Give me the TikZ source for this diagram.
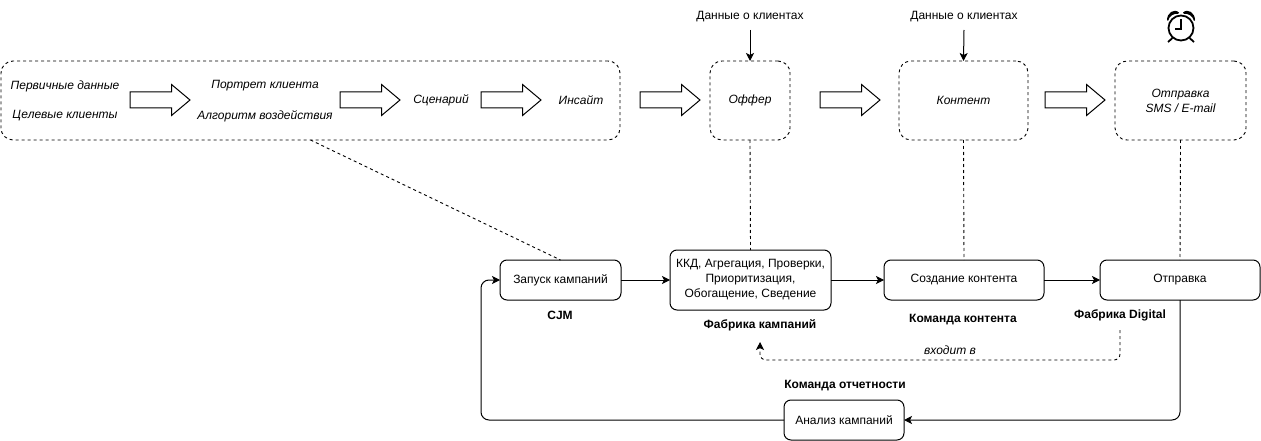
\documentclass[tikz,border=0pt]{standalone}
\usepackage{fontspec}
\setmainfont{Liberation Sans}
\usetikzlibrary{arrows.meta,shapes.arrows,calc}
\tikzset{
  x=1pt,y=-1pt,
  every node/.style={font=\fontsize{12}{15}\selectfont,inner sep=0pt,outer sep=0pt,align=center},
  boxa/.style={draw=black,line width=1pt,rounded corners=7pt},
  dbox/.style={draw=black,line width=0.9pt,rounded corners=12pt,dash pattern=on 3pt off 3pt},
  lab/.style={font=\fontsize{12}{15}\selectfont\itshape},
  blab/.style={font=\fontsize{12}{15}\selectfont\bfseries},
  barrow/.style={single arrow,draw=black,line width=1pt,fill=white,inner xsep=0pt,inner ysep=7.5pt,minimum height=60pt,minimum width=30pt,single arrow head extend=7.5pt,single arrow tip angle=80,anchor=tail},
  conn/.style={draw=black,line width=1pt,-{Stealth[length=8pt,width=8pt,inset=2pt]},rounded corners=8pt},
  dconn/.style={draw=black,line width=0.9pt,dash pattern=on 3pt off 3pt},
}
\begin{document}
\begin{tikzpicture}
\useasboundingbox (0,0) rectangle (1261,441);
% dashed containers
\node[dbox,minimum width=619pt,minimum height=79pt] (big) at (310.5,100.5) {};
\node[dbox,minimum width=80pt,minimum height=79pt,lab] (offer) at (750,100.5) {Оффер};
\node[dbox,minimum width=129pt,minimum height=79pt,lab] (cont) at (963.5,100.5) {Контент};
\node[dbox,minimum width=131pt,minimum height=79pt,lab] (send) at (1180.5,100.5) {Отправка\\SMS / E-mail};
% texts in large container
\node[lab] (t1) at (65,86) {Первичные данные};
\node[lab] (t2) at (65,116) {Целевые клиенты};
\node[lab] (t3) at (265,86) {Портрет клиента};
\node[lab] (t4) at (265,116) {Алгоритм воздействия};
\node[lab] (t5) at (441,100) {Сценарий};
\node[lab] (t6) at (581,100) {Инсайт};
% block arrows
\node[barrow] (a1) at (130,100) {};
\node[barrow] (a2) at (340,100) {};
\node[barrow] (a3) at (481,100) {};
\node[barrow] (a4) at (640,100) {};
\node[barrow] (a5) at (820,100) {};
\node[barrow] (a6) at (1045,100) {};
% top labels
\node[minimum height=26pt] (d1) at (750,17) {Данные о клиентах};
\node[minimum height=26pt] (d2) at (964,17) {Данные о клиентах};
% alarm clock
\begin{scope}[line width=1.8pt,shift={(1181,28)}]
  \draw (0,0) circle[radius=12.5];
  \draw[line width=1.5pt] (0,-9) -- (0,1) -- (-6,1);
  \fill (-14,-8) .. controls (-14,-15) and (-7,-20) .. (-2,-15.5) -- (-3,-14) .. controls (-7,-15) and (-12,-12) .. (-13,-7) -- cycle;
  \fill (14,-8) .. controls (14,-15) and (7,-20) .. (2,-15.5) -- (3,-14) .. controls (7,-15) and (12,-12) .. (13,-7) -- cycle;
  \draw (-8.5,10) -- (-13,14);
  \draw (8.5,10) -- (13,14);
\end{scope}
% process boxes
\node[boxa,minimum width=121pt,minimum height=40pt] (zap) at (560.5,280) {Запуск кампаний};
\node[boxa,minimum width=161pt,minimum height=60pt] (fab) at (750.5,280) {ККД, Агрегация, Проверки,\\Приоритизация,\\Обогащение, Сведение};
\node[boxa,minimum width=160pt,minimum height=40pt] (soz) at (964,280) {Создание контента};
\node[boxa,minimum width=160pt,minimum height=40pt] (otp) at (1180,280) {Отправка};
\node[boxa,minimum width=120pt,minimum height=40pt] (ana) at (844,420) {Анализ кампаний};
% bold labels
\node[blab] (lcjm) at (560,315) {CJM};
\node[blab,minimum height=34pt] (lfab) at (760,325) {Фабрика кампаний};
\node[blab] (lcon) at (963,320) {Команда контента};
\node[blab,minimum height=30pt] (ldig) at (1120,315) {Фабрика Digital};
\node[blab] (lrep) at (845,386) {Команда отчетности};
\node[lab] (lin) at (950,350) {входит в};
% connectors
\draw[dconn] (big.south) -- (zap.north);
\draw[dconn] (offer.south) -- (fab.north);
\draw[dconn] (cont.south) -- (soz.north);
\draw[dconn] (send.south) -- (otp.north);
\draw[conn] (d1.south) -- (offer.north);
\draw[conn] (d2.south) -- (cont.north);
\draw[conn] (zap.east) -- (fab.west);
\draw[conn] (fab.east) -- (soz.west);
\draw[conn] (soz.east) -- (otp.west);
\draw[conn] (otp.south) |- (ana.east);
\draw[conn] (ana.west) -- (481,420) -- (481,280) -- (zap.west);
\draw[dconn,rounded corners=6pt,-{Stealth[length=8pt,width=8pt,inset=2pt]}] (ldig.south) -- (ldig.south |- 0,360) -- (lfab.south |- 0,360) -- (lfab.south);
\end{tikzpicture}
\end{document}
